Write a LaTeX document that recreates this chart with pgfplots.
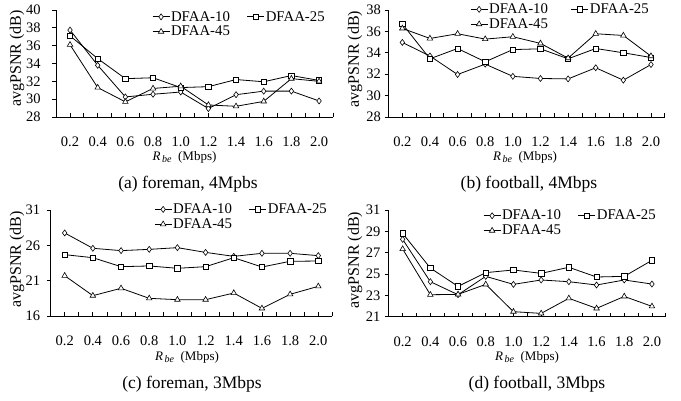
\documentclass[border=0pt]{standalone}
\usepackage{pgfplots}
\pgfplotsset{compat=1.18}
\usepackage{fontspec}
\setmainfont{Liberation Serif}
\begin{document}
\begin{tikzpicture}
\useasboundingbox (0pt,0pt) rectangle (681pt,401pt);
\pgfplotsset{
  panel/.style={
    scale only axis,
    axis lines*=left,
    axis line style={line width=0.8pt},
    every tick/.style={line width=0.8pt,black},
    xmin=0.1, xmax=2.1,
    xtick={0.2,0.4,0.6,0.8,1.0,1.2,1.4,1.6,1.8,2.0},
    xticklabels={0.2,0.4,0.6,0.8,1.0,1.2,1.4,1.6,1.8,2.0},
    minor xtick={0.3,0.5,0.7,0.9,1.1,1.3,1.5,1.7,1.9,2.1},
    xtick align=inside, ytick align=outside,
    major tick length=4pt, minor tick length=4pt,
    tick label style={font=\fontsize{14.5}{15}\selectfont},
    /pgf/number format/assume math mode=true,
    xticklabel style={yshift=-19.5pt, inner sep=0.5pt},
    legend columns=2,
    legend cell align=left,
    legend style={draw=none, fill=none, inner sep=0pt, anchor=north west,
      font=\fontsize{14.8}{15}\selectfont, row sep=1.5pt,
      /tikz/every even column/.append style={column sep=16pt},
      nodes={inner sep=1pt}},
    clip=false,
  },
  s10/.style={black, line width=0.8pt, mark=diamond*, mark size=3pt, mark options={fill=white, line width=0.6pt}},
  s25/.style={black, line width=0.8pt, mark=square*, mark size=2.7pt, mark options={fill=white, line width=0.6pt}},
  s45/.style={black, line width=0.8pt, mark=triangle*, mark size=3.2pt, mark options={fill=white, line width=0.6pt}},
}
% (a)
\begin{axis}[panel, at={(56.2pt,284pt)}, anchor=south west, width=276.7pt, height=107pt,
  ymin=28, ymax=40, ytick={28,30,32,34,36,38,40},
  yticklabel style={xshift=-8pt},
  legend style={at={(0.346,1.0)}}]
\addplot[s10] coordinates {(0.2,37.75)(0.4,33.8)(0.6,30.25)(0.8,30.55)(1.0,30.8)(1.2,28.95)(1.4,30.5)(1.6,30.9)(1.8,30.9)(2.0,29.8)};
\addplot[s25] coordinates {(0.2,37.1)(0.4,34.55)(0.6,32.3)(0.8,32.4)(1.0,31.3)(1.2,31.4)(1.4,32.2)(1.6,31.95)(1.8,32.65)(2.0,32.1)};
\addplot[s45] coordinates {(0.2,36.1)(0.4,31.3)(0.6,29.7)(0.8,31.2)(1.0,31.45)(1.2,29.35)(1.4,29.2)(1.6,29.75)(1.8,32.3)(2.0,32.0)};
\legend{DFAA-10,DFAA-25,DFAA-45}
\end{axis}
% (b)
\begin{axis}[panel, at={(388.5pt,284pt)}, anchor=south west, width=276.3pt, height=107pt,
  ymin=28, ymax=38, ytick={28,30,32,34,36,38},
  yticklabel style={xshift=0pt},
  legend style={at={(0.295,1.07)}, /tikz/every even column/.append style={column sep=22pt}}]
\addplot[s10] coordinates {(0.2,34.97)(0.4,33.7)(0.6,31.97)(0.8,32.94)(1.0,31.8)(1.2,31.6)(1.4,31.56)(1.6,32.6)(1.8,31.44)(2.0,32.9)};
\addplot[s25] coordinates {(0.2,36.7)(0.4,33.44)(0.6,34.4)(0.8,33.16)(1.0,34.3)(1.2,34.37)(1.4,33.44)(1.6,34.4)(1.8,34.0)(2.0,33.56)};
\addplot[s45] coordinates {(0.2,36.28)(0.4,35.34)(0.6,35.78)(0.8,35.28)(1.0,35.5)(1.2,34.88)(1.4,33.5)(1.6,35.78)(1.8,35.62)(2.0,33.69)};
\legend{DFAA-10,DFAA-25,DFAA-45}
\end{axis}
% (c)
\begin{axis}[panel, at={(50.6pt,85pt)}, anchor=south west, width=281.8pt, height=106pt,
  ymin=16, ymax=31, ytick={16,21,26,31},
  yticklabel style={xshift=-3pt},
  legend style={at={(0.367,1.07)}}]
\addplot[s10] coordinates {(0.2,27.75)(0.4,25.58)(0.6,25.25)(0.8,25.43)(1.0,25.67)(1.2,25.0)(1.4,24.44)(1.6,24.87)(1.8,24.87)(2.0,24.54)};
\addplot[s25] coordinates {(0.2,24.68)(0.4,24.25)(0.6,22.98)(0.8,23.08)(1.0,22.75)(1.2,22.98)(1.4,24.25)(1.6,22.93)(1.8,23.74)(2.0,23.78)};
\addplot[s45] coordinates {(0.2,21.7)(0.4,18.88)(0.6,19.92)(0.8,18.5)(1.0,18.31)(1.2,18.31)(1.4,19.25)(1.6,17.08)(1.8,19.07)(2.0,20.2)};
\legend{DFAA-10,DFAA-25,DFAA-45}
\end{axis}
% (d)
\begin{axis}[panel, at={(388.8pt,84.3pt)}, anchor=south west, width=277pt, height=106.7pt,
  ymin=21, ymax=31, ytick={21,23,25,27,29,31},
  yticklabel style={xshift=-1pt},
  legend style={at={(0.34,1.01)}}]
\addplot[s10] coordinates {(0.2,28.25)(0.4,24.28)(0.6,23.06)(0.8,24.78)(1.0,24.03)(1.2,24.44)(1.4,24.28)(1.6,23.97)(1.8,24.44)(2.0,24.06)};
\addplot[s25] coordinates {(0.2,28.81)(0.4,25.56)(0.6,23.84)(0.8,25.13)(1.0,25.38)(1.2,25.06)(1.4,25.63)(1.6,24.72)(1.8,24.78)(2.0,26.28)};
\addplot[s45] coordinates {(0.2,27.34)(0.4,23.06)(0.6,23.09)(0.8,24.03)(1.0,21.47)(1.2,21.31)(1.4,22.72)(1.6,21.78)(1.8,22.9)(2.0,21.97)};
\legend{DFAA-10,DFAA-25,DFAA-45}
\end{axis}
% labels
\def\yl{\fontsize{16}{17}\selectfont avgPSNR (dB)}
\def\xl{\fontsize{13}{13}\selectfont\textit{R}\raisebox{-0.35ex}{\fontsize{10}{10}\selectfont\,\textit{be}}\ \ (Mbps)}
\def\cf{\fontsize{17.5}{18}\selectfont}
\node[rotate=90] at (17pt,342.5pt) {\yl};
\node[rotate=90] at (355pt,342pt) {\yl};
\node[rotate=90] at (17pt,141.5pt) {\yl};
\node[rotate=90] at (355pt,141pt) {\yl};
\node[inner sep=0.5pt] at (184.5pt,244pt) {\xl};
\node[inner sep=0.5pt] at (525pt,244pt) {\xl};
\node[inner sep=0.5pt] at (187pt,44pt) {\xl};
\node[inner sep=0.5pt] at (527pt,44pt) {\xl};
\node at (188pt,217pt) {\cf (a) foreman, 4Mpbs};
\node at (529pt,217pt) {\cf (b) football, 4Mbps};
\node at (192pt,17pt) {\cf (c) foreman, 3Mbps};
\node at (537pt,17pt) {\cf (d) football, 3Mbps};
\end{tikzpicture}
\end{document}
